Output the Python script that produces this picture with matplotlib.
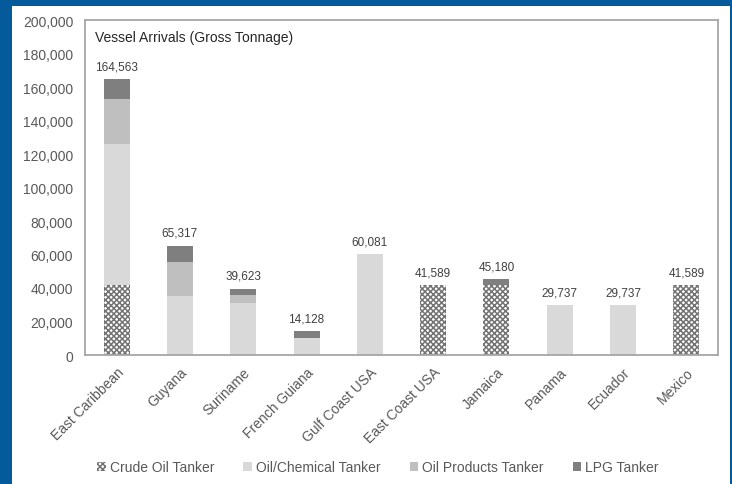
import numpy as np
import matplotlib
matplotlib.use("Agg")
import matplotlib.pyplot as plt
from matplotlib.patches import Rectangle, Patch
from matplotlib.ticker import FuncFormatter

plt.rcParams['font.family'] = ['Liberation Sans', 'DejaVu Sans']
plt.rcParams['hatch.linewidth'] = 1.1

# --- dados (toneladas brutas) ---
destinos = ['East Caribbean', 'Guyana', 'Suriname', 'French Guiana', 'Gulf Coast USA',
            'East Coast USA', 'Jamaica', 'Panama', 'Ecuador', 'Mexico']
crude_oil = [41589, 0, 0, 0, 0, 41589, 41589, 0, 0, 41589]
oil_chemical = [84400, 35400, 31000, 10000, 60081, 0, 0, 29737, 29737, 0]
oil_products = [26800, 20300, 4800, 0, 0, 0, 0, 0, 0, 0]
lpg = [11774, 9617, 3823, 4128, 0, 0, 3591, 0, 0, 0]
totais = [164563, 65317, 39623, 14128, 60081, 41589, 45180, 29737, 29737, 41589]

series = ['Crude Oil Tanker', 'Oil/Chemical Tanker', 'Oil Products Tanker', 'LPG Tanker']
cores = ['white', '#d9d9d9', '#bfbfbf', '#7f7f7f']
COR_HACHURA = '#737373'
HACHURA = 'xxxxxx'

W, H = 732, 485
fig = plt.figure(figsize=(W / 100, H / 100), dpi=100)
fig.patch.set_facecolor('#045a9a')
# painel branco dentro da moldura azul
fig.add_artist(Rectangle((12 / W, 0), (730 - 12) / W, (H - 7) / H,
                         transform=fig.transFigure, facecolor='white',
                         edgecolor='none', zorder=0))

ax = fig.add_axes([85 / W, (H - 356) / H, (718 - 85) / W, (356 - 21) / H])
ax.set_facecolor('white')

x = np.arange(len(destinos))
largura = 0.41
base = np.zeros(len(destinos))
valores = [crude_oil, oil_chemical, oil_products, lpg]
for i, (nome, vals, cor) in enumerate(zip(series, valores, cores)):
    vals = np.array(vals, dtype=float)
    if i == 0:
        # hachura em xadrez para o petróleo bruto
        ax.bar(x, vals, largura, bottom=base, color=cor, hatch=HACHURA,
               edgecolor=COR_HACHURA, linewidth=0, zorder=2)
    else:
        ax.bar(x, vals, largura, bottom=base, color=cor, edgecolor='none', zorder=2)
    base += vals

for xi, t in zip(x, totais):
    ax.annotate(f'{t:,}', (xi, t), xytext=(0, 5), textcoords='offset points',
                ha='center', va='bottom', fontsize=8.5, color='#404040')

ax.set_ylim(0, 200000)
ax.set_xlim(-0.5, len(destinos) - 0.5)
ax.set_yticks(np.arange(0, 200001, 20000))
ax.yaxis.set_major_formatter(FuncFormatter(lambda v, p: f'{int(v):,}'))
ax.tick_params(axis='y', length=0, pad=8.5, labelsize=10, labelcolor='#595959')
ax.set_xticks(x)
ax.set_xticklabels(destinos, rotation=45, ha='right', rotation_mode='anchor')
ax.tick_params(axis='x', length=0, pad=7, labelsize=10, labelcolor='#595959')

for s in ax.spines.values():
    s.set_color('#a6a6a6')
    s.set_linewidth(1.3)

ax.text(0.016, 0.95, 'Vessel Arrivals (Gross Tonnage)', transform=ax.transAxes,
        ha='left', va='center', fontsize=10, color='#262626')

handles = [Patch(facecolor='white', hatch=HACHURA, edgecolor=COR_HACHURA, linewidth=0),
           Patch(facecolor=cores[1]), Patch(facecolor=cores[2]), Patch(facecolor=cores[3])]
fig.legend(handles, series, loc='center', bbox_to_anchor=(378 / W, 1 - 468 / H),
           ncol=4, frameon=False, fontsize=10, handlelength=0.6, handleheight=0.6,
           handletextpad=0.3, columnspacing=2.1, labelcolor='#595959')

fig.savefig('out.png', dpi=100, facecolor=fig.get_facecolor())
